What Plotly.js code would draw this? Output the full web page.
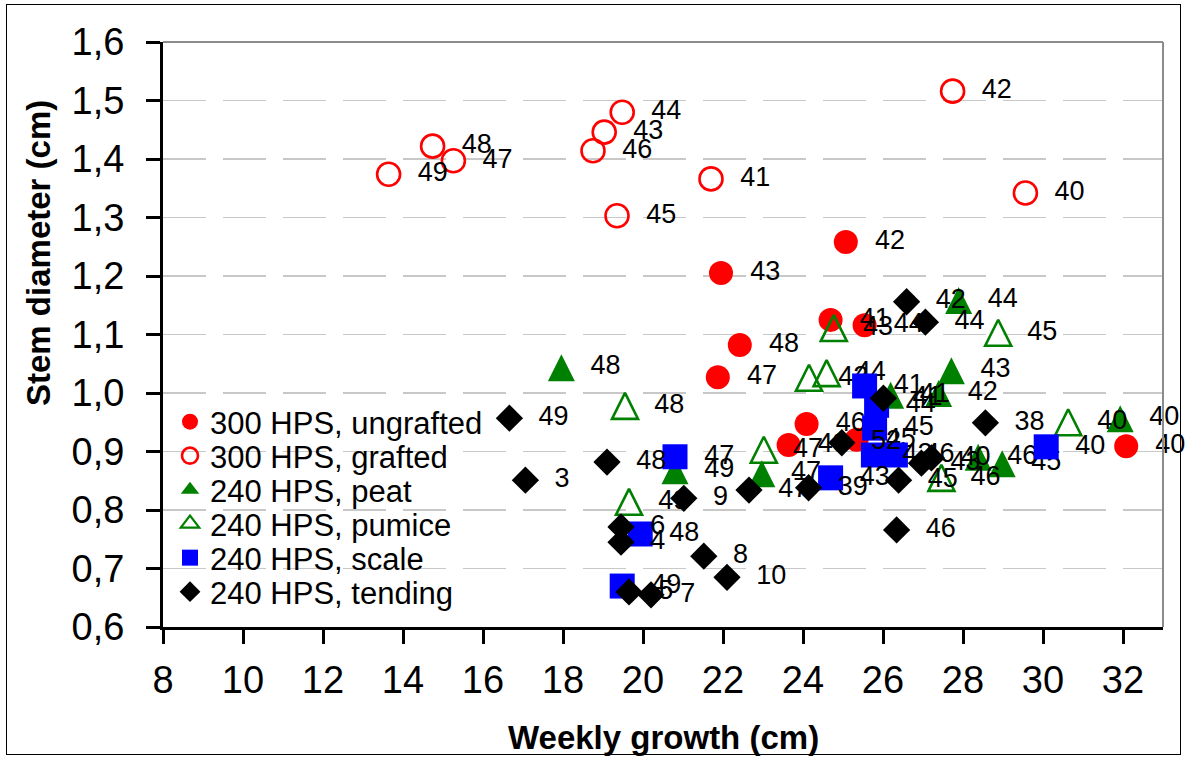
<!DOCTYPE html>
<html><head><meta charset="utf-8">
<script src="https://cdn.plot.ly/plotly-3.0.1.min.js"></script>
<style>
html,body{margin:0;padding:0;background:#fff;}
#chart{width:1186px;height:760px;position:absolute;left:0;top:0;}
#frame{position:absolute;left:6px;top:4px;width:1175px;height:751px;border:1.5px solid #000;box-sizing:border-box;pointer-events:none;}
</style>
</head><body>
<div id="chart"></div><div id="frame"></div>
<script>
// ---- data ----
const seriesNames = ['300 HPS, ungrafted', '300 HPS, grafted', '240 HPS, peat', '240 HPS, pumice', '240 HPS, scale', '240 HPS, tending'];

const ungraftedX = [32.08, 24.69, 25.07, 21.95, 25.54, 25.34, 24.09, 21.87, 22.42, 23.64];
const ungraftedY = [0.909, 1.125, 1.258, 1.205, 1.116, 0.920, 0.947, 1.027, 1.082, 0.911];
const ungraftedLabels = ['40', '41', '42', '43', '44', '45', '46', '47', '48', '49'];

const graftedX = [29.56, 21.70, 27.74, 19.03, 19.48, 19.35, 18.75, 15.26, 14.74, 13.64];
const graftedY = [1.342, 1.366, 1.516, 1.446, 1.480, 1.303, 1.414, 1.397, 1.422, 1.374];
const graftedLabels = ['40', '41', '42', '43', '44', '45', '46', '47', '48', '49'];

const peatX = [31.93, 26.19, 27.39, 27.71, 27.89, 28.98, 28.38, 22.97, 17.96, 20.80];
const peatY = [0.957, 0.997, 1.000, 1.039, 1.159, 0.880, 0.891, 0.863, 1.044, 0.868];
const peatLabels = ['40', '41', '42', '43', '44', '45', '46', '47', '48', '49'];

const pumiceX = [30.63, 24.15, 24.77, 24.59, 28.88, 27.46, 23.02, 19.55, 19.65];
const pumiceY = [0.950, 1.026, 1.111, 1.034, 1.103, 0.855, 0.903, 0.978, 0.814];
const pumiceLabels = ['40', '42', '43', '44', '45', '46', '47', '48', '49'];

const scaleX = [30.08, 25.54, 25.76, 24.69, 25.84, 25.79, 26.31, 20.80, 19.93, 19.48];
const scaleY = [0.908, 1.012, 0.894, 0.855, 0.979, 0.940, 0.894, 0.891, 0.759, 0.670];
const scaleLabels = ['40', '41', '42', '43', '44', '45', '46', '47', '48', '49'];

const tendingX = [28.56, 24.14, 27.21, 26.01, 26.59, 26.96, 27.06, 26.39, 26.34, 22.65, 19.10, 16.66, 24.97, 17.06, 19.45, 19.65, 19.45, 20.20, 21.52, 21.02, 22.10];
const tendingY = [0.949, 0.838, 0.889, 0.991, 1.156, 0.880, 1.121, 0.851, 0.766, 0.834, 0.882, 0.957, 0.915, 0.851, 0.745, 0.660, 0.771, 0.655, 0.721, 0.820, 0.685];
const tendingLabels = ['38', '39', '40', '41', '42', '43', '44', '45', '46', '47', '48', '49', '52', '3', '4', '5', '6', '7', '8', '9', '10'];

const xTicks = [8, 10, 12, 14, 16, 18, 20, 22, 24, 26, 28, 30, 32];
const yTicks = [0.6, 0.7, 0.8, 0.9, 1.0, 1.1, 1.2, 1.3, 1.4, 1.5, 1.6];

// ---- styles ----
const FONT = 'Liberation Sans, Arial, Helvetica, sans-serif';
const RED = '#ff0000', GREEN = '#008000', BLUE = '#0000ff', BLACK = '#000000';

const seriesData = [
  {x: ungraftedX, y: ungraftedY, t: ungraftedLabels, marker: {symbol: 'circle', size: 24, color: RED, line: {width: 0}}, legendMarker: null},
  {x: graftedX, y: graftedY, t: graftedLabels, marker: {symbol: 'circle-open', size: 23, color: RED, line: {width: 2.6, color: RED}}, legendMarker: null},
  {x: peatX, y: peatY, t: peatLabels, marker: {symbol: 'arrow-down', angle: 180, standoff: 13, size: 27, color: GREEN, line: {width: 0}}, legendMarker: {symbol: 'triangle-up', size: 16, color: GREEN, line: {width: 0}}},
  {x: pumiceX, y: pumiceY, t: pumiceLabels, marker: {symbol: 'arrow-down-open', angle: 180, standoff: 13, size: 26, color: GREEN, line: {width: 2.6, color: GREEN}}, legendMarker: {symbol: 'triangle-up-open', size: 16, color: GREEN, line: {width: 2.2, color: GREEN}}},
  {x: scaleX, y: scaleY, t: scaleLabels, marker: {symbol: 'square', size: 25, color: BLUE, line: {width: 0}}, legendMarker: null},
  {x: tendingX, y: tendingY, t: tendingLabels, marker: {symbol: 'diamond', size: 21, color: BLACK, line: {width: 0}}, legendMarker: null}
];

const legendIds = ['legend', 'legend2', 'legend3', 'legend4', 'legend5', 'legend6'];
const traces = [];
seriesData.forEach((s, i) => {
  traces.push({
    type: 'scatter', mode: 'markers', x: s.x, y: s.y, name: seriesNames[i],
    marker: s.marker, hoverinfo: 'skip', cliponaxis: false,
    showlegend: !s.legendMarker, legend: legendIds[i]
  });
  traces.push({
    type: 'scatter', mode: 'markers+text', x: s.x, y: s.y, text: s.t,
    textposition: 'middle right', textfont: {family: FONT, size: 27, color: '#000'},
    marker: {size: 45, color: 'rgba(0,0,0,0)', line: {width: 0}},
    hoverinfo: 'skip', showlegend: false, cliponaxis: false
  });
  if (s.legendMarker) {
    traces.push({
      type: 'scatter', mode: 'markers', x: [null], y: [null], name: seriesNames[i],
      marker: s.legendMarker, showlegend: true, legend: legendIds[i], hoverinfo: 'skip'
    });
  }
});

// plot area: left 163, right 1163, top 42, bottom 627
const M = {l: 163, r: 23, t: 42, b: 133};
const plotH = 760 - M.t - M.b;
const legendRows = [422, 456, 490, 524, 558, 592];

const layout = {
  width: 1186, height: 760,
  margin: M,
  paper_bgcolor: '#ffffff', plot_bgcolor: '#ffffff',
  separators: ',.',
  font: {family: FONT, color: '#000'},
  showlegend: true,
  xaxis: {
    range: [8, 33], tickvals: xTicks, ticktext: xTicks.map(String),
    showgrid: false, zeroline: false,
    showline: true, linecolor: '#000', linewidth: 3,
    ticks: 'outside', ticklen: 14, tickwidth: 3, tickcolor: '#000',
    ticklabelstandoff: 3,
    tickfont: {family: FONT, size: 38, color: '#000'},
    fixedrange: true
  },
  yaxis: {
    range: [0.6, 1.6], tickvals: yTicks, tickformat: '.1f',
    showgrid: true, gridcolor: '#c8c8c8', gridwidth: 1.5, griddash: '43px,17px',
    zeroline: false,
    showline: true, linecolor: '#000', linewidth: 3,
    ticks: 'outside', ticklen: 14, tickwidth: 3, tickcolor: '#000',
    ticklabelstandoff: 14,
    tickfont: {family: FONT, size: 38, color: '#000'},
    fixedrange: true
  },
  shapes: [
    {type: 'rect', xref: 'paper', yref: 'paper', x0: 0.006, x1: 0.336, y0: (627 - 604) / plotH, y1: (627 - 402) / plotH,
     fillcolor: '#ffffff', line: {width: 0}, layer: 'between'},
    {type: 'line', xref: 'paper', yref: 'paper', x0: 0, x1: 1, y0: 1, y1: 1, line: {color: '#8c8c8c', width: 2}},
    {type: 'line', xref: 'paper', yref: 'paper', x0: 1, x1: 1, y0: 0, y1: 1, line: {color: '#8c8c8c', width: 2}}
  ],
  annotations: [
    {text: '<b>Weekly growth (cm)</b>', xref: 'paper', yref: 'paper', x: 0.5, y: (627 - 737) / plotH,
     xanchor: 'center', yanchor: 'middle', showarrow: false, font: {family: FONT, size: 33, color: '#000'}},
    {text: '<b>Stem diameter (cm)</b>', xref: 'paper', yref: 'paper', x: (38 - 163) / 1000, y: (627 - 253) / plotH,
     xanchor: 'center', yanchor: 'middle', textangle: -90, showarrow: false, font: {family: FONT, size: 33, color: '#000'}}
  ]
};

legendIds.forEach((id, i) => {
  layout[id] = {
    x: 0.007, y: (627 - legendRows[i]) / plotH, xanchor: 'left', yanchor: 'middle',
    bgcolor: 'rgba(0,0,0,0)', borderwidth: 0,
    font: {family: FONT, size: 31, color: '#000'},
    itemwidth: 30, tracegroupgap: 0
  };
});

Plotly.newPlot('chart', traces, layout, {displayModeBar: false, staticPlot: true});
</script>
</body></html>
